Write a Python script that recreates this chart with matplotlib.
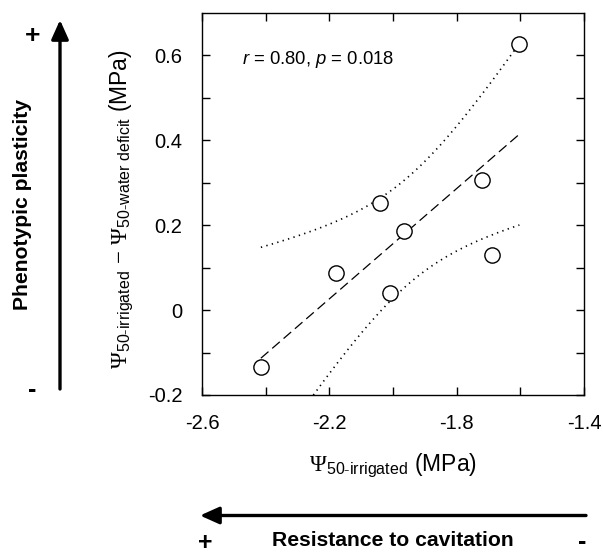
import numpy as np
import matplotlib
matplotlib.use("Agg")
import matplotlib.pyplot as plt
from matplotlib.ticker import FixedLocator

plt.rcParams['font.family'] = ['Liberation Sans', 'DejaVu Sans']
plt.rcParams['mathtext.fontset'] = 'custom'
plt.rcParams['mathtext.rm'] = 'Liberation Serif'
plt.rcParams['mathtext.sf'] = 'Liberation Sans'
plt.rcParams['mathtext.it'] = 'Liberation Sans:italic'
plt.rcParams['mathtext.bf'] = 'Liberation Sans:bold'

# Data
psi50_irrigated = [-2.415, -2.179, -2.041, -1.965, -2.009, -1.719, -1.688, -1.603]
plasticity = [-0.133, 0.088, 0.252, 0.186, 0.041, 0.307, 0.131, 0.627]
x_ticklabels = ['-2.6', '-2.2', '-1.8', '-1.4']
y_ticklabels = ['-0.2', '0', '0.2', '0.4', '0.6']

x = np.array(psi50_irrigated)
y = np.array(plasticity)
n = len(x)

# Linear regression with 95% confidence band
slope, intercept = np.polyfit(x, y, 1)
xf = np.linspace(x.min(), x.max(), 200)
yf = intercept + slope * xf
resid = y - (intercept + slope * x)
s = np.sqrt(np.sum(resid ** 2) / (n - 2))
sxx = np.sum((x - x.mean()) ** 2)
t = 2.447  # t(0.975, df=6)
half = t * s * np.sqrt(1.0 / n + (xf - x.mean()) ** 2 / sxx)

W, H = 603, 553
fig = plt.figure(figsize=(W / 100, H / 100), dpi=100)
ax = fig.add_axes([202 / W, 1 - 395 / H, 382 / W, 382 / H])

ax.plot(xf, yf, color='black', lw=0.9, linestyle=(0, (8, 4)))
ax.plot(xf, yf + half, color='black', lw=1.2, linestyle=(0, (0.8, 2.6)))
ax.plot(xf, yf - half, color='black', lw=1.2, linestyle=(0, (0.8, 2.6)))
ax.plot(x, y, linestyle='none', marker='o', markersize=11, markerfacecolor='white',
        markeredgecolor='black', markeredgewidth=1.0, zorder=5)

ax.set_xlim(-2.6, -1.4)
ax.set_ylim(-0.2, 0.7)
ax.xaxis.set_major_locator(FixedLocator([-2.6, -2.2, -1.8, -1.4]))
ax.xaxis.set_minor_locator(FixedLocator([-2.4, -2.0, -1.6]))
ax.set_xticklabels(x_ticklabels)
ax.yaxis.set_major_locator(FixedLocator([-0.2, 0.0, 0.2, 0.4, 0.6]))
ax.yaxis.set_minor_locator(FixedLocator([-0.1, 0.1, 0.3, 0.5]))
ax.set_yticklabels(y_ticklabels)
ax.tick_params(which='both', direction='in', length=5.5, width=1.0,
               top=True, right=True, labelsize=14.5, color='black')
ax.tick_params(axis='y', pad=14)
ax.tick_params(axis='x', pad=14)
for sp in ax.spines.values():
    sp.set_linewidth(1.0)

def fx(px):
    return px / W

def fy(py):
    return 1 - py / H

fig.text(fx(393), fy(466), r'$\mathrm{\Psi}_{\mathsf{50\text{-}irrigated}}$ (MPa)',
         fontsize=16.5, ha='center', va='center')
fig.text(fx(122), fy(209),
         r'$\mathrm{\Psi}_{\mathsf{50\text{-}irrigated}}$ $-$ $\mathrm{\Psi}_{\mathsf{50\text{-}water\ deficit}}$ (MPa)',
         fontsize=16.5, ha='center', va='center', rotation=90)

ax.text(-2.475, 0.59, r'$r$ = 0.80, $p$ = 0.018', fontsize=13.3, va='center', ha='left')

arrow_style = '-|>,head_length=0.58,head_width=0.26'

# Vertical arrow (phenotypic plasticity)
fig.add_artist(matplotlib.patches.FancyArrowPatch(
    (fx(60), fy(389)), (fx(60), fy(20)), transform=fig.transFigure,
    arrowstyle=arrow_style, mutation_scale=20,
    lw=2.4, color='black', shrinkA=0, shrinkB=0))
fig.text(fx(32), fy(34), r'$\mathbf{+}$', fontsize=19, ha='center', va='center')
fig.text(fx(32), fy(396.5), '-', fontsize=18, fontweight='bold', ha='center', va='baseline')
fig.text(fx(23), fy(204), 'Phenotypic plasticity', fontsize=15.2, fontweight='bold',
         rotation=90, ha='center', va='center')

# Horizontal arrow (resistance to cavitation)
fig.add_artist(matplotlib.patches.FancyArrowPatch(
    (fx(586), fy(515.5)), (fx(200), fy(515.5)), transform=fig.transFigure,
    arrowstyle=arrow_style, mutation_scale=20,
    lw=2.4, color='black', shrinkA=0, shrinkB=0))
fig.text(fx(205), fy(541.5), r'$\mathbf{+}$', fontsize=18, ha='center', va='center')
fig.text(fx(393), fy(541), 'Resistance to cavitation', fontsize=15.2, fontweight='bold',
         ha='center', va='center')
fig.text(fx(582.5), fy(549.5), '-', fontsize=18, fontweight='bold', ha='center', va='baseline')

fig.savefig('out.png', dpi=100)
